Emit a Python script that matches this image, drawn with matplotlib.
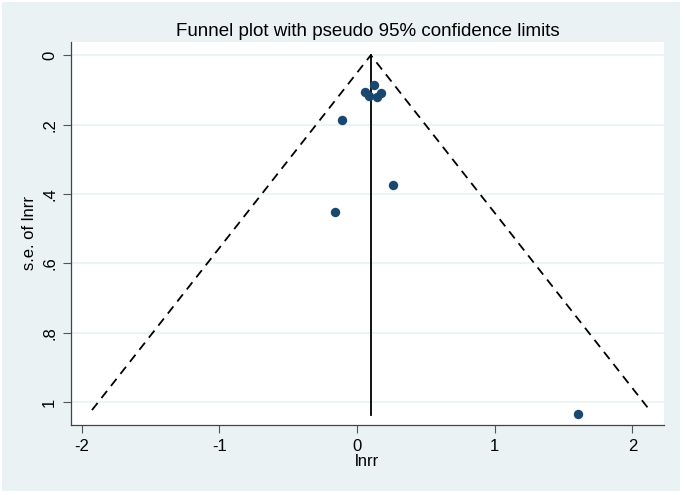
import matplotlib
matplotlib.use("Agg")
import matplotlib.pyplot as plt
from matplotlib.patches import Rectangle
import numpy as np

# Data
lnrr = [0.058, 0.087, 0.123, 0.143, 0.172, -0.107, 0.26, -0.16, 1.605]
se_lnrr = [0.106, 0.118, 0.086, 0.120, 0.110, 0.187, 0.374, 0.452, 1.033]
pooled = 0.10
yticks = [0, 0.2, 0.4, 0.6, 0.8, 1.0]
ytick_labels = ["0", ".2", ".4", ".6", ".8", "1"]
xticks = [-2, -1, 0, 1, 2]
xtick_labels = ["-2", "-1", "0", "1", "2"]

plt.rcParams['font.family'] = ['Liberation Sans', 'DejaVu Sans']
BG = "#EAF2F3"
NAVY = "#1A476F"

W, H = 685, 495
fig = plt.figure(figsize=(W / 100, H / 100), dpi=100)
fig.patch.set_facecolor("white")
fig.patches.append(Rectangle((2 / W, 4 / H), 678 / W, 489 / H, transform=fig.transFigure,
                             facecolor=BG, edgecolor="none", zorder=-10))

left, right, top, bottom = 71, 664, 42, 425
ax = fig.add_axes([left / W, 1 - bottom / H, (right - left) / W, (bottom - top) / H])
ax.set_facecolor("white")

# funnel
smax = max(se_lnrr)
ax.plot([pooled - 1.96 * smax, pooled, pooled + 1.96 * smax], [smax - 0.01, 0, smax - 0.01],
        color="black", lw=1.3, ls=(0, (5, 3.5)), zorder=2)
ax.plot([pooled, pooled], [0, smax + 0.005], color="black", lw=1.3, zorder=2)
ax.scatter(lnrr, se_lnrr, s=46, color=NAVY, zorder=3, linewidths=0)

ax.set_xlim(-2.077, 2.229)
ax.set_ylim(1.066, -0.038)
ax.set_yticks(yticks)
ax.set_yticklabels(ytick_labels, rotation=90, va="center")
ax.set_xticks(xticks)
ax.set_xticklabels(xtick_labels)
ax.tick_params(axis="both", labelsize=12, length=6, width=0.8, color="#555555", pad=4)
ax.grid(axis="y", color=BG, lw=1.2, zorder=0)
ax.set_axisbelow(True)
for s in ["top", "right"]:
    ax.spines[s].set_visible(False)
for s in ["left", "bottom"]:
    ax.spines[s].set_color("#444444")
    ax.spines[s].set_linewidth(0.9)

ax.set_xlabel("lnrr", fontsize=12, labelpad=0)
ax.set_ylabel("s.e. of lnrr", fontsize=12, labelpad=4)
fig.text((left + right) / 2 / W, 1 - 32 / H, "Funnel plot with pseudo 95% confidence limits",
         ha="center", va="center", fontsize=13.5)

fig.savefig("out.png", dpi=100, facecolor=fig.get_facecolor())
